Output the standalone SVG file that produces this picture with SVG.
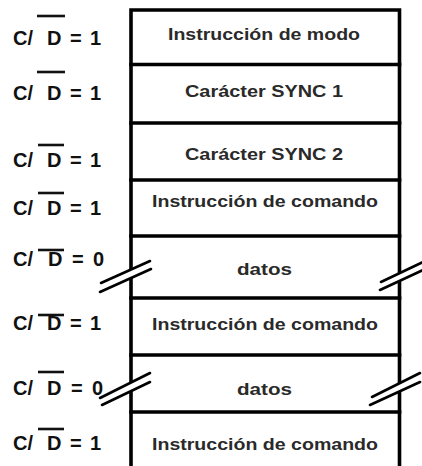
<svg xmlns="http://www.w3.org/2000/svg" width="422" height="466" viewBox="0 0 422 466">
<style>
.frame{stroke:#000;stroke-width:3.6;fill:none;stroke-linecap:square}
.lbl{font-family:"Liberation Sans",Arial,sans-serif;font-weight:bold;font-size:20px;fill:#111}
.ov{stroke:#111;stroke-width:2.6}
.txt{font-family:"Liberation Sans",Arial,sans-serif;font-weight:bold;font-size:17px;fill:#2a2a2a;text-anchor:start}
.brk{stroke:#000;stroke-width:2.6;fill:none;stroke-linecap:round}
.gap{fill:#fff;stroke:none}
</style>
<rect width="422" height="466" fill="#fff"/>
<g id="frame">
<path class="frame" d="M131,466 V10 H399.5 V466"/>
<path class="frame" d="M131,64.5 H399.5 M131,123 H399.5 M131,180 H399.5 M131,236 H399.5 M131,298 H399.5 M131,355 H399.5 M131,412 H399.5"/>
</g>
<g id="row1">
<text class="lbl" y="45"><tspan x="13">C/</tspan><tspan x="47">D</tspan><tspan x="70">=</tspan><tspan x="90">1</tspan></text>
<line class="ov" x1="37" y1="16" x2="65" y2="16"/>
<text class="txt" x="168" y="40" textLength="192" lengthAdjust="spacingAndGlyphs">Instrucción de modo</text>
</g>
<g id="row2">
<text class="lbl" y="100"><tspan x="13">C/</tspan><tspan x="47">D</tspan><tspan x="70">=</tspan><tspan x="90">1</tspan></text>
<line class="ov" x1="37" y1="72" x2="65" y2="72"/>
<text class="txt" x="185" y="97" textLength="158" lengthAdjust="spacingAndGlyphs">Carácter SYNC  1</text>
</g>
<g id="row3">
<text class="lbl" y="167"><tspan x="13">C/</tspan><tspan x="47">D</tspan><tspan x="70">=</tspan><tspan x="90">1</tspan></text>
<line class="ov" x1="38" y1="145" x2="64" y2="145"/>
<text class="txt" x="185" y="160" textLength="158" lengthAdjust="spacingAndGlyphs">Carácter SYNC  2</text>
</g>
<g id="row4">
<text class="lbl" y="215"><tspan x="13">C/</tspan><tspan x="47">D</tspan><tspan x="70">=</tspan><tspan x="90">1</tspan></text>
<line class="ov" x1="38" y1="193" x2="64" y2="193"/>
<text class="txt" x="152" y="207" textLength="226" lengthAdjust="spacingAndGlyphs">Instrucción de comando</text>
</g>
<g id="row5">
<text class="lbl" y="266"><tspan x="13">C/</tspan><tspan x="48">D</tspan><tspan x="72">=</tspan><tspan x="93">0</tspan></text>
<line class="ov" x1="38" y1="250" x2="64" y2="250"/>
<text class="txt" x="237" y="275" textLength="55" lengthAdjust="spacingAndGlyphs">datos</text>
</g>
<g id="row6">
<text class="lbl" y="330"><tspan x="13">C/</tspan><tspan x="47">D</tspan><tspan x="70">=</tspan><tspan x="90">1</tspan></text>
<line class="ov" x1="38" y1="315" x2="64" y2="315"/>
<text class="txt" x="152" y="330" textLength="226" lengthAdjust="spacingAndGlyphs">Instrucción de comando</text>
</g>
<g id="row7">
<text class="lbl" y="395"><tspan x="13">C/</tspan><tspan x="47">D</tspan><tspan x="71">=</tspan><tspan x="92">0</tspan></text>
<line class="ov" x1="38" y1="372" x2="64" y2="372"/>
<text class="txt" x="237" y="395" textLength="55" lengthAdjust="spacingAndGlyphs">datos</text>
</g>
<g id="row8">
<text class="lbl" y="450"><tspan x="13">C/</tspan><tspan x="47">D</tspan><tspan x="70">=</tspan><tspan x="90">1</tspan></text>
<line class="ov" x1="38" y1="429" x2="64" y2="429"/>
<text class="txt" x="152" y="450" textLength="226" lengthAdjust="spacingAndGlyphs">Instrucción de comando</text>
</g>
<g id="connectors">
<polygon class="gap" points="101,283 150,261 151,269 100,292"/>
<line class="brk" x1="101" y1="283" x2="150" y2="261"/>
<line class="brk" x1="100" y1="292" x2="151" y2="269"/>
<polygon class="gap" points="381,282 423,262 423,270 380,290"/>
<line class="brk" x1="381" y1="282" x2="423" y2="262"/>
<line class="brk" x1="380" y1="290" x2="423" y2="270"/>
<polygon class="gap" points="100,398 150,373 150,382 102,405"/>
<line class="brk" x1="100" y1="398" x2="150" y2="373"/>
<line class="brk" x1="102" y1="405" x2="150" y2="382"/>
<polygon class="gap" points="372,397 420,373 420,382 370,405"/>
<line class="brk" x1="372" y1="397" x2="420" y2="373"/>
<line class="brk" x1="370" y1="405" x2="420" y2="382"/>
</g>
</svg>
